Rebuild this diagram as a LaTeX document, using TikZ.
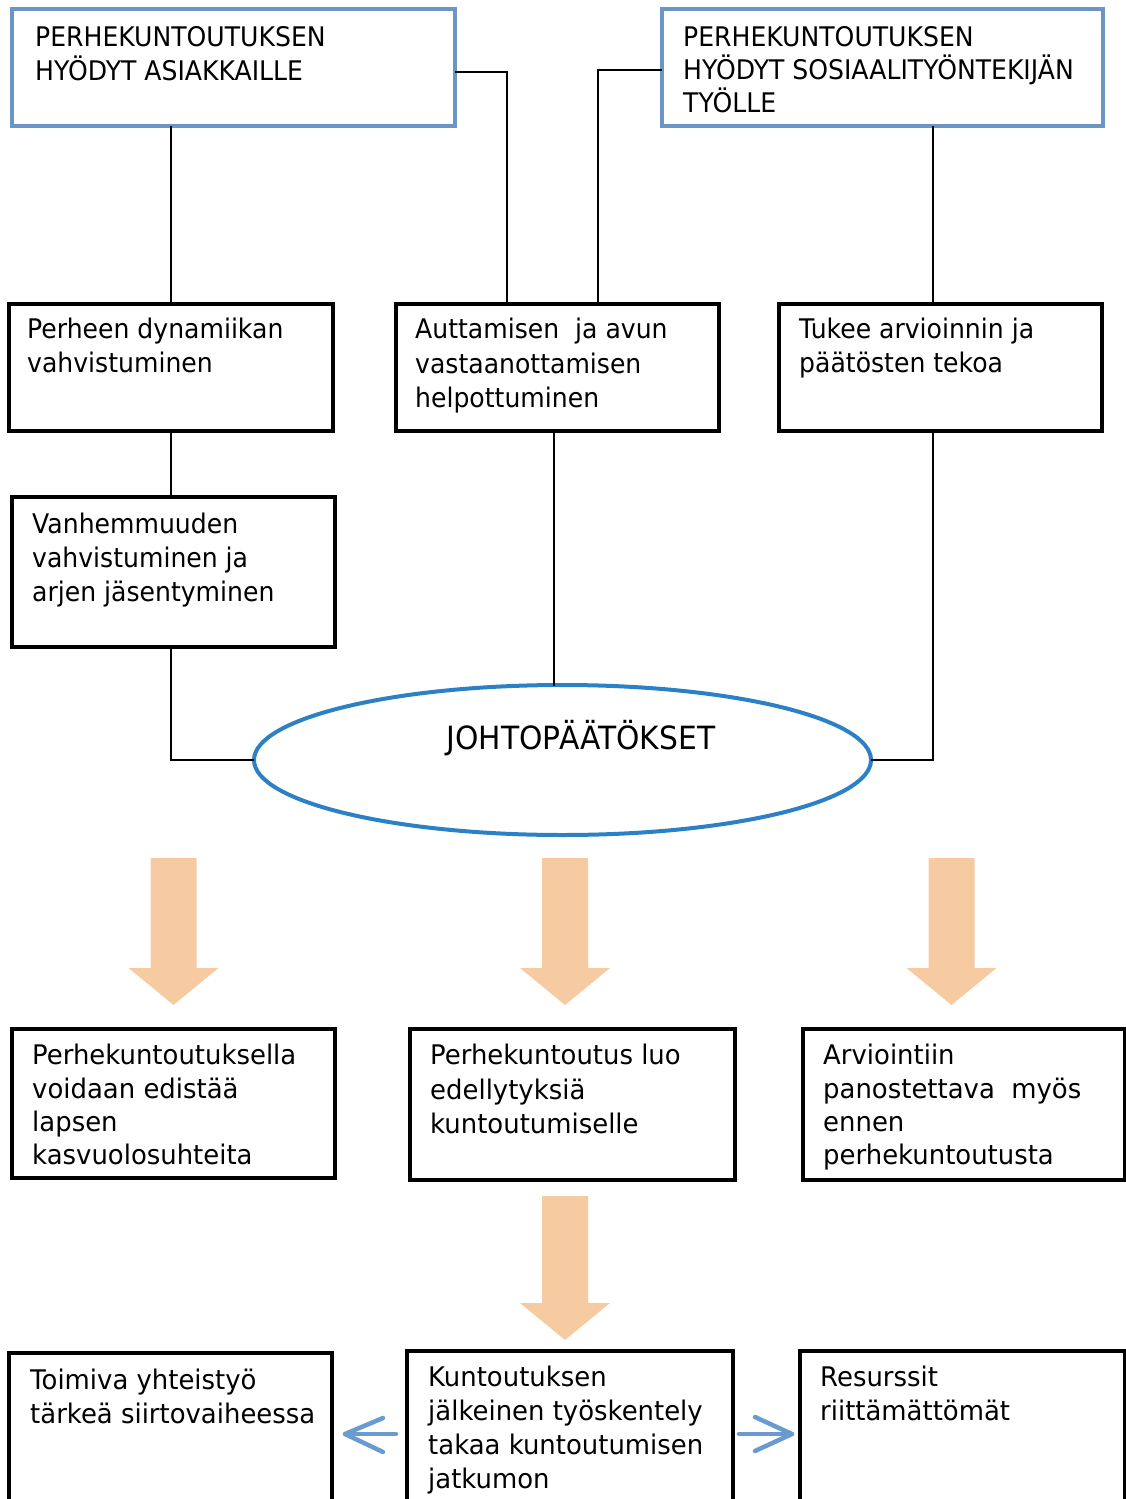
\documentclass[tikz,border=0pt]{standalone}
\usepackage{fontspec}
\setmainfont{DejaVu Sans}[FakeStretch=0.93]
\newfontfamily\lowfont{DejaVu Sans}[FakeStretch=0.96]
\usetikzlibrary{arrows.meta}
\definecolor{bluebox}{HTML}{6A96C4}
\definecolor{ellblue}{HTML}{2C80C6}
\definecolor{peach}{HTML}{F7CBA2}
\definecolor{arrblue}{HTML}{6A9BD0}
\begin{document}
\begin{tikzpicture}[x=1pt,y=-1pt,
  bluebox/.style={draw=bluebox,line width=4pt,anchor=north west,inner sep=0pt,outer sep=0pt},
  blackbox/.style={draw=black,line width=4pt,anchor=north west,inner sep=0pt,outer sep=0pt},
  txt/.style={anchor=north west,inner sep=0pt,align=left,font=\fontsize{27}{34}\selectfont,execute at begin node=\rule{0pt}{20pt}},
  lowtxt/.style={txt,font=\lowfont\fontsize{27}{33.3}\selectfont},
  conn/.style={draw=black,line width=2pt},
  smallarrow/.style={draw=arrblue,line width=4.5pt,line cap=round,line join=round}
]
\useasboundingbox (0,0) rectangle (1126,1499);
% top blue boxes
\node[bluebox,minimum width=443,minimum height=117] (A) at (12,9) {};
\node[txt] (At) at (35,26) {PERHEKUNTOUTUKSEN\\HYÖDYT ASIAKKAILLE};
\node[bluebox,minimum width=441,minimum height=117] (B) at (662,9) {};
\node[txt,font=\fontsize{27}{33}\selectfont] (Bt) at (683,26) {PERHEKUNTOUTUKSEN\\HYÖDYT SOSIAALITYÖNTEKIJÄN\\TYÖLLE};
% second row
\node[blackbox,minimum width=324,minimum height=127] (C) at (9,304) {};
\node[txt] (Ct) at (27,318) {Perheen dynamiikan\\vahvistuminen};
\node[blackbox,minimum width=323,minimum height=127] (D) at (396,304) {};
\node[txt,font=\fontsize{27}{34.5}\selectfont] (Dt) at (415,318) {Auttamisen\ \ ja avun\\vastaanottamisen\\helpottuminen};
\node[blackbox,minimum width=323,minimum height=127] (E) at (779,304) {};
\node[txt] (Et) at (799,318) {Tukee arvioinnin ja\\päätösten tekoa};
% third
\node[blackbox,minimum width=323,minimum height=150] (F) at (12,497) {};
\node[txt,font=\fontsize{27}{34}\selectfont] (Ft) at (32,513) {Vanhemmuuden\\vahvistuminen ja\\arjen jäsentyminen};
% ellipse
\draw[ellblue,line width=4pt] (562.5,760) ellipse [x radius=308.5,y radius=75];
\node[inner sep=0pt,font=\fontsize{32}{34}\selectfont] (J) at (581,738) {JOHTOPÄÄTÖKSET};
\coordinate (Eleft) at (254,760);
\coordinate (Eright) at (871,760);
\coordinate (Etop) at (554,686);
% connectors
\draw[conn] (A.south -| 171,0) -- (C.north -| 171,0);
\draw[conn] (A.east |- 0,72) -- (507,72) -- (D.north -| 507,0);
\draw[conn] (B.west |- 0,70) -- (598,70) -- (D.north -| 598,0);
\draw[conn] (B.south -| 933,0) -- (E.north -| 933,0);
\draw[conn] (C.south -| 171,0) -- (F.north -| 171,0);
\draw[conn] (F.south -| 171,0) -- (171,760) -- (Eleft);
\draw[conn] (D.south -| 554,0) -- (Etop);
\draw[conn] (E.south -| 933,0) -- (933,760) -- (Eright);
% big arrows
\foreach \cx/\yt/\yh/\yb in {173.5/858/968/1005, 565/858/968/1005, 951.5/858/968/1005, 565/1196/1303/1340}{
  \fill[peach] (\cx-23,\yt) -- (\cx+23,\yt) -- (\cx+23,\yh) -- (\cx+45,\yh) -- (\cx,\yb) -- (\cx-45,\yh) -- (\cx-23,\yh) -- cycle;
}
% row 4
\node[blackbox,minimum width=323,minimum height=149] (G) at (12,1029) {};
\node[lowtxt] (Gt) at (32,1044) {Perhekuntoutuksella\\voidaan edistää\\lapsen\\kasvuolosuhteita};
\node[blackbox,minimum width=325,minimum height=151] (H) at (410,1029) {};
\node[lowtxt,font=\lowfont\fontsize{27}{34.5}\selectfont] (Ht) at (430,1044) {Perhekuntoutus luo\\edellytyksiä\\kuntoutumiselle};
\node[blackbox,minimum width=322,minimum height=151] (I) at (803,1029) {};
\node[lowtxt] (It) at (823,1044) {Arviointiin\\panostettava\ \ myös\\ennen\\perhekuntoutusta};
% bottom row
\node[blackbox,minimum width=323,minimum height=170] (K1) at (9,1353) {};
\node[lowtxt,font=\lowfont\fontsize{27}{34}\selectfont] (K1t) at (30,1369) {Toimiva yhteistyö\\tärkeä siirtovaiheessa};
\node[blackbox,minimum width=326,minimum height=170] (K2) at (407,1351) {};
\node[lowtxt,font=\lowfont\fontsize{27}{33.8}\selectfont] (K2t) at (428,1366) {Kuntoutuksen\\jälkeinen työskentely\\takaa kuntoutumisen\\jatkumon};
\node[blackbox,minimum width=325,minimum height=170] (K3) at (800,1351) {};
\node[lowtxt,font=\lowfont\fontsize{27}{34}\selectfont] (K3t) at (820,1366) {Resurssit\\riittämättömät};
% small arrows
\coordinate (la) at (345,1434);
\coordinate (ra) at (792,1434);
\draw[smallarrow] (396,1434) -- (la);
\draw[smallarrow] (383,1418) -- (la) -- (383,1452);
\draw[smallarrow] (739,1434) -- (ra);
\draw[smallarrow] (755,1417) -- (ra) -- (755,1451);
\end{tikzpicture}
\end{document}
